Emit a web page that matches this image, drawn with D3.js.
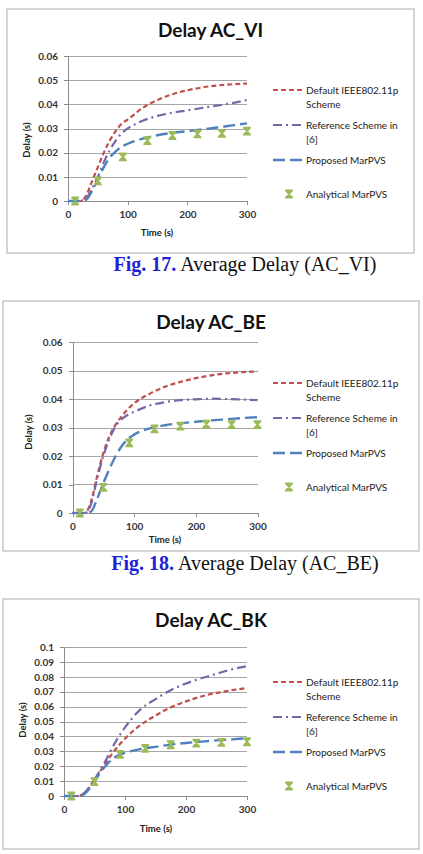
<!DOCTYPE html>
<html lang="en">
<head>
<meta charset="UTF-8">
<title>Average Delay</title>
<script src="https://cdn.jsdelivr.net/npm/d3@7"></script>
<style>
  body { margin: 0; background: #fff; }
  svg { display: block; }
  .axis path, .axis line { fill: none; stroke: #8c8c8c; shape-rendering: crispEdges; }
  .axis text { font-family: Lato, "Open Sans", sans-serif; font-size: 10px; font-weight: bold; fill: #333; }
  .grid line { stroke: #a6a6a6; shape-rendering: crispEdges; }
  .title { font-family: Lato, "Open Sans", sans-serif; font-size: 19px; font-weight: bold; fill: #111; }
  .axislabel { font-family: Lato, "Open Sans", sans-serif; font-size: 9.5px; font-weight: bold; fill: #222; }
  .legend text { font-family: Lato, "Open Sans", sans-serif; font-size: 10px; fill: #222; }
  .caption { font-family: "Liberation Serif", "Times New Roman", serif; font-size: 20px; fill: #111; }
</style>
</head>
<body>
<script>
// 数据：时间轴
var timeGrid = [0, 20, 30, 40, 50, 60, 70, 80, 90, 100, 125, 150, 175, 200, 225, 250, 275, 300];
var analyticTime = [12, 50, 92, 133, 175, 217, 258, 300];
var xTicks = [0, 100, 200, 300];

// AC_VI
var viDefault   = [0, 0, 0.002, 0.008, 0.014, 0.020, 0.025, 0.029, 0.032, 0.0337, 0.0385, 0.0418, 0.0442, 0.0458, 0.047, 0.0478, 0.0483, 0.0486];
var viReference = [0, 0, 0.001, 0.005, 0.010, 0.016, 0.021, 0.025, 0.028, 0.030, 0.0332, 0.0352, 0.0365, 0.0375, 0.0385, 0.0395, 0.0405, 0.0418];
var viProposed  = [0, 0, 0.0005, 0.004, 0.009, 0.014, 0.018, 0.0205, 0.0225, 0.0237, 0.0258, 0.0272, 0.0282, 0.0289, 0.0296, 0.0304, 0.0313, 0.0321];
var viAnalytical = [0, 0.0083, 0.0183, 0.025, 0.0271, 0.0278, 0.028, 0.0289];
var viTicks = [0, 0.01, 0.02, 0.03, 0.04, 0.05, 0.06];

// AC_BE
var beDefault   = [0, 0, 0.004, 0.013, 0.021, 0.027, 0.031, 0.034, 0.0365, 0.0385, 0.0418, 0.0443, 0.046, 0.0473, 0.0483, 0.049, 0.0494, 0.0497];
var beReference = [0, 0, 0.003, 0.012, 0.020, 0.026, 0.0305, 0.033, 0.0345, 0.0355, 0.0377, 0.0389, 0.0396, 0.0399, 0.0401, 0.0400, 0.0398, 0.0396];
var beProposed  = [0, 0, 0.0005, 0.005, 0.0105, 0.0155, 0.020, 0.0235, 0.026, 0.0275, 0.0297, 0.0308, 0.0315, 0.032, 0.0325, 0.0329, 0.0333, 0.0336];
var beAnalytical = [0, 0.009, 0.0246, 0.0295, 0.0305, 0.0312, 0.031, 0.031];
var beTicks = [0, 0.01, 0.02, 0.03, 0.04, 0.05, 0.06];

// AC_BK
var bkDefault   = [0, 0, 0.001, 0.005, 0.011, 0.017, 0.023, 0.029, 0.034, 0.0385, 0.0475, 0.054, 0.0595, 0.0635, 0.0668, 0.0692, 0.071, 0.0725];
var bkReference = [0, 0, 0.001, 0.005, 0.011, 0.018, 0.025, 0.033, 0.040, 0.046, 0.058, 0.065, 0.071, 0.0755, 0.079, 0.082, 0.085, 0.0872];
var bkProposed  = [0, 0, 0.0005, 0.004, 0.010, 0.016, 0.021, 0.025, 0.0275, 0.029, 0.0315, 0.033, 0.0345, 0.0356, 0.0365, 0.0373, 0.038, 0.0388];
var bkAnalytical = [0, 0.0097, 0.028, 0.032, 0.0344, 0.0355, 0.036, 0.0364];
var bkTicks = [0, 0.01, 0.02, 0.03, 0.04, 0.05, 0.06, 0.07, 0.08, 0.09, 0.1];

var legendLabels = [["Default IEEE802.11p", "Scheme"], ["Reference Scheme in", "[6]"], ["Proposed MarPVS"], ["Analytical MarPVS"]];

var colDefault = "#c0504d", colReference = "#7866a8", colProposed = "#4f81bd", colAnalytical = "#9bbb59";

var svg = d3.select("body").append("svg")
    .attr("width", 423)
    .attr("height", 854);

// 三个图的布局
var panels = [
  { title: "Delay AC_VI", frame: [7, 9, 414, 253], titleY: 37, plot: [68, 247, 56, 201], yTicks: viTicks,
    timeX: 157, timeY: 236, delayX: 30, delayY: 140, legendY: 90,
    series: [viDefault, viReference, viProposed], analytic: viAnalytical,
    caption: ["Fig. 17.", " Average Delay (AC_VI)"], captionY: 271 },
  { title: "Delay AC_BE", frame: [3, 301, 419, 551], titleY: 329, plot: [72.5, 257.5, 342, 513], yTicks: beTicks,
    timeX: 165, timeY: 543, delayX: 32, delayY: 432, legendY: 383,
    series: [beDefault, beReference, beProposed], analytic: beAnalytical,
    caption: ["Fig. 18.", " Average Delay (AC_BE)"], captionY: 570 },
  { title: "Delay AC_BK", frame: [3, 599, 419, 849], titleY: 627, plot: [64, 247, 647, 796], yTicks: bkTicks,
    timeX: 156, timeY: 832, delayX: 26, delayY: 720, legendY: 682,
    series: [bkDefault, bkReference, bkProposed], analytic: bkAnalytical,
    caption: null }
];

var styles = [
  { color: colDefault, dash: "5,3", width: 2.2 },
  { color: colReference, dash: "9,4,2,4", width: 2.2 },
  { color: colProposed, dash: "12,5", width: 2.4 }
];

function marker(g, cx, cy) {
  // 绿色的“X”标记
  g.append("path")
    .attr("d", "M" + (cx - 3.2) + "," + (cy - 3.5) + "L" + (cx + 3.2) + "," + (cy - 3.5) + "L" + (cx - 3.2) + "," + (cy + 3.5) + "L" + (cx + 3.2) + "," + (cy + 3.5) + "Z")
    .attr("fill", colAnalytical)
    .attr("stroke", colAnalytical)
    .attr("stroke-width", 1.8)
    .attr("stroke-linejoin", "round");
}

panels.forEach(function (p) {
  var g = svg.append("g");

  g.append("rect")
    .attr("x", p.frame[0]).attr("y", p.frame[1])
    .attr("width", p.frame[2] - p.frame[0]).attr("height", p.frame[3] - p.frame[1])
    .attr("fill", "#fff").attr("stroke", "#c6c6c6").attr("stroke-width", 1.5);

  g.append("text").attr("class", "title")
    .attr("x", (p.frame[0] + p.frame[2]) / 2).attr("y", p.titleY)
    .attr("text-anchor", "middle").text(p.title);

  var x = d3.scaleLinear().domain([0, 300]).range([p.plot[0], p.plot[1]]);
  var y = d3.scaleLinear().domain([0, d3.max(p.yTicks)]).range([p.plot[3], p.plot[2]]);

  // 网格线
  g.append("g").attr("class", "grid")
    .selectAll("line")
    .data(p.yTicks.filter(function (d) { return d > 0; }))
    .enter().append("line")
    .attr("x1", p.plot[0]).attr("x2", p.plot[1])
    .attr("y1", function (d) { return Math.round(y(d)) + 0.5; })
    .attr("y2", function (d) { return Math.round(y(d)) + 0.5; });

  var yAxis = d3.axisLeft(y).tickValues(p.yTicks).tickSize(4).tickPadding(6)
    .tickFormat(function (d) { return d === 0 ? "0" : d3.format(".2~f")(d); });
  g.append("g").attr("class", "axis")
    .attr("transform", "translate(" + p.plot[0] + ",0)")
    .call(yAxis);

  var xAxis = d3.axisBottom(x).tickValues(xTicks).tickSize(4).tickPadding(6).tickSizeOuter(0);
  g.append("g").attr("class", "axis")
    .attr("transform", "translate(0," + p.plot[3] + ")")
    .call(xAxis);

  g.append("text").attr("class", "axislabel")
    .attr("x", p.timeX).attr("y", p.timeY)
    .attr("text-anchor", "middle").text("Time (s)");

  g.append("text").attr("class", "axislabel")
    .attr("transform", "translate(" + p.delayX + "," + p.delayY + ") rotate(-90)")
    .attr("text-anchor", "middle").text("Delay (s)");

  var line = d3.line()
    .x(function (d) { return x(d[0]); })
    .y(function (d) { return y(d[1]); })
    .curve(d3.curveMonotoneX);

  p.series.forEach(function (vals, i) {
    g.append("path")
      .datum(timeGrid.map(function (t, k) { return [t, vals[k]]; }))
      .attr("d", line)
      .attr("fill", "none")
      .attr("stroke", styles[i].color)
      .attr("stroke-width", styles[i].width)
      .attr("stroke-dasharray", styles[i].dash);
  });

  analyticTime.forEach(function (t, k) {
    marker(g, x(t), y(p.analytic[k]));
  });

  // 图例
  var lg = g.append("g").attr("class", "legend");
  var rowOffsets = [0, 35, 70, 104];
  legendLabels.forEach(function (lines, i) {
    var ly = p.legendY + rowOffsets[i];
    if (i < 3) {
      lg.append("line")
        .attr("x1", 273).attr("x2", 305).attr("y1", ly).attr("y2", ly)
        .attr("stroke", styles[i].color)
        .attr("stroke-width", styles[i].width)
        .attr("stroke-dasharray", styles[i].dash);
    } else {
      marker(lg, 289, ly);
    }
    lines.forEach(function (s, j) {
      lg.append("text")
        .attr("x", 306).attr("y", ly + j * 14.5)
        .attr("dy", "0.35em").text(s);
    });
  });

  if (p.caption) {
    var c = g.append("text").attr("class", "caption")
      .attr("x", 245).attr("y", p.captionY).attr("text-anchor", "middle");
    c.append("tspan").attr("fill", "#1f1fd6").attr("font-weight", "bold").text(p.caption[0]);
    c.append("tspan").text(p.caption[1]);
  }
});
</script>
</body>
</html>
